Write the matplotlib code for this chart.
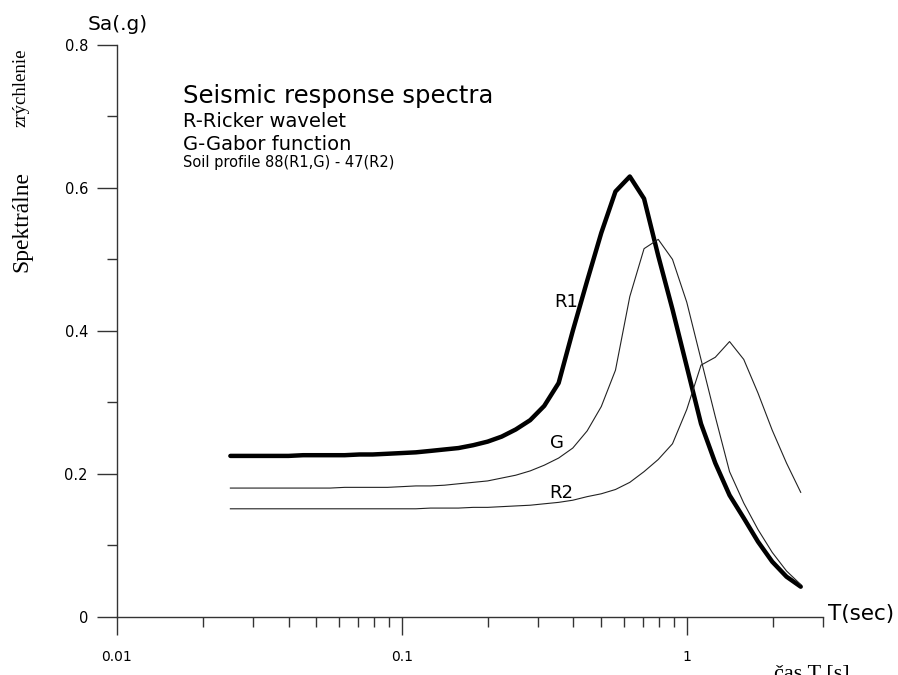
import numpy as np
import matplotlib.pyplot as plt
from matplotlib.ticker import FixedLocator, NullFormatter

# periods (s), 20 points per decade
T = [0.025, 0.028, 0.032, 0.035, 0.040, 0.045, 0.050, 0.056, 0.063, 0.071,
     0.079, 0.089, 0.100, 0.112, 0.126, 0.141, 0.158, 0.178, 0.200, 0.224,
     0.251, 0.282, 0.316, 0.355, 0.398, 0.447, 0.501, 0.562, 0.631, 0.708,
     0.794, 0.891, 1.000, 1.122, 1.259, 1.413, 1.585, 1.778, 1.995, 2.239,
     2.512]

# spectral accelerations Sa (g)
R1 = [0.225, 0.225, 0.225, 0.225, 0.225, 0.226, 0.226, 0.226, 0.226, 0.227,
      0.227, 0.228, 0.229, 0.230, 0.232, 0.234, 0.236, 0.240, 0.245, 0.252,
      0.262, 0.275, 0.295, 0.327, 0.400, 0.470, 0.537, 0.595, 0.616, 0.585,
      0.505, 0.430, 0.350, 0.270, 0.215, 0.170, 0.138, 0.105, 0.077, 0.056,
      0.042]
G = [0.180, 0.180, 0.180, 0.180, 0.180, 0.180, 0.180, 0.180, 0.181, 0.181,
     0.181, 0.181, 0.182, 0.183, 0.183, 0.184, 0.186, 0.188, 0.190, 0.194,
     0.198, 0.204, 0.212, 0.222, 0.236, 0.260, 0.294, 0.345, 0.448, 0.515,
     0.528, 0.500, 0.440, 0.360, 0.280, 0.203, 0.159, 0.122, 0.090, 0.064,
     0.045]
R2 = [0.151, 0.151, 0.151, 0.151, 0.151, 0.151, 0.151, 0.151, 0.151, 0.151,
      0.151, 0.151, 0.151, 0.151, 0.152, 0.152, 0.152, 0.153, 0.153, 0.154,
      0.155, 0.156, 0.158, 0.160, 0.163, 0.168, 0.172, 0.178, 0.188, 0.203,
      0.220, 0.242, 0.290, 0.352, 0.363, 0.385, 0.360, 0.313, 0.261, 0.215,
      0.174]

yticks = [0, 0.2, 0.4, 0.6, 0.8]
ylabels = ['0', '0.2', '0.4', '0.6', '0.8']
xticks = [0.01, 0.1, 1]
xlabels = ['0.01', '0.1', '1']

W, H = 898, 675
fig = plt.figure(figsize=(W / 100, H / 100), dpi=100)
# axes placed in pixel units: y-axis at x=117, 0 at y=617, 0.8 at y=45, x end 822.7
ax = fig.add_axes([117 / W, (H - 616.7) / H, (822.7 - 117) / W, (616.7 - 45) / H])

ax.plot(T, R1, color='black', lw=3.2, solid_capstyle='round')
ax.plot(T, G, color='#222222', lw=0.8)
ax.plot(T, R2, color='#222222', lw=0.8)

ax.set_xscale('log')
ax.set_xlim(0.01, 3.0)
ax.set_ylim(0, 0.8)

for s in ['top', 'right']:
    ax.spines[s].set_visible(False)
for s in ['left', 'bottom']:
    ax.spines[s].set_color('#333333')
    ax.spines[s].set_linewidth(1.0)

ax.xaxis.set_major_locator(FixedLocator(xticks))
ax.set_xticklabels(xlabels)
ax.xaxis.set_minor_locator(FixedLocator([0.02, 0.03, 0.04, 0.05, 0.06, 0.07, 0.08, 0.09,
                                         0.2, 0.3, 0.4, 0.5, 0.6, 0.7, 0.8, 0.9, 2, 3]))
ax.xaxis.set_minor_formatter(NullFormatter())
ax.set_yticks(yticks)
ax.set_yticklabels(ylabels)
ax.set_yticks([0.1, 0.3, 0.5, 0.7], minor=True)

ax.tick_params(axis='x', which='major', direction='out', length=13, width=1.0,
               color='#333333', pad=11, labelsize=10)
ax.tick_params(axis='x', which='minor', direction='out', length=7.2, width=1.0,
               color='#333333')
ax.tick_params(axis='y', which='major', direction='out', length=14.4, width=1.0,
               color='#333333', pad=6.5, labelsize=10.5)
ax.tick_params(axis='y', which='minor', direction='out', length=7.2, width=1.0,
               color='#333333')

# axis captions (pixel coordinates converted to figure fraction)
def px(x, y):
    return x / W, 1 - y / H

fig.text(*px(118, 25), 'Sa(.g)', fontsize=14.5, ha='center', va='center')
fig.text(*px(828, 620), 'T(sec)', fontsize=15.5, ha='left', va='baseline')

# titles inside plot
fig.text(*px(183, 103), 'Seismic response spectra', fontsize=17.5, ha='left', va='baseline')
fig.text(*px(183, 127), 'R-Ricker wavelet', fontsize=14, ha='left', va='baseline')
fig.text(*px(183, 150), 'G-Gabor function', fontsize=14, ha='left', va='baseline')
fig.text(*px(183, 167), 'Soil profile 88(R1,G) - 47(R2)', fontsize=10.5, ha='left', va='baseline')

# curve labels
fig.text(*px(566, 302), 'R1', fontsize=13, ha='center', va='center')
fig.text(*px(557, 443), 'G', fontsize=13, ha='center', va='center')
fig.text(*px(561, 493), 'R2', fontsize=13, ha='center', va='center')

# Slovak labels in serif
fig.text(*px(21, 88), 'zrýchlenie', fontsize=13.5, family='Liberation Serif',
         rotation=90, ha='center', va='center')
fig.text(*px(22, 221), 'Spektrálne', fontsize=17, family='Liberation Serif',
         rotation=90, ha='center', va='center')
fig.text(*px(812, 679), 'čas T [s]', fontsize=16, family='Liberation Serif',
         ha='center', va='baseline')

fig.savefig('out.png', dpi=100)
